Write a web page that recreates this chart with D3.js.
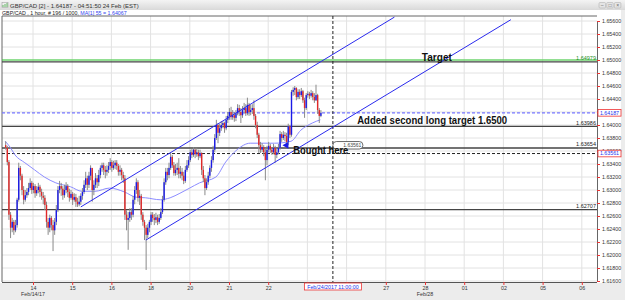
<!DOCTYPE html>
<html>
<head>
<meta charset="utf-8">
<script src="https://cdn.jsdelivr.net/npm/d3@7"></script>
<style>
html, body { margin: 0; padding: 0; background: #ececec; }
svg { display: block; font-family: "Liberation Sans", Arial, sans-serif; }
</style>
</head>
<body>
<svg id="chart" width="625" height="300"></svg>
<script>
// day labels on the time axis (one per trading session)
const dayLabels = ['14', '15', '16', '18', '20', '21', '22', '23', '24', '27', '28', '01', '02', '05', '06'];
const monthLabels = ['Feb/14/17', 'Feb/28'];
const monthLabelDays = [0, 10];
const priceTicks = [1.616, 1.618, 1.620, 1.622, 1.624, 1.626, 1.628, 1.630, 1.632, 1.634, 1.636,
    1.638, 1.640, 1.642, 1.644, 1.646, 1.648, 1.650, 1.652, 1.654, 1.656];

// hourly bars, GBP/CAD
const firstOpen = 1.6369;
const closes = [
    1.6365, 1.6343, 1.6262, 1.6242, 1.6251, 1.6238, 1.6246, 1.6285, 1.6334, 1.6322,
    1.6300, 1.6285, 1.6292, 1.6297, 1.6303, 1.6311, 1.6300, 1.6306, 1.6295, 1.6300,
    1.6305, 1.6297, 1.6291, 1.6288, 1.6277, 1.6251, 1.6242, 1.6257, 1.6246, 1.6238,
    1.6251, 1.6269, 1.6300, 1.6306, 1.6302, 1.6292, 1.6300, 1.6306, 1.6297, 1.6288,
    1.6294, 1.6285, 1.6289, 1.6282, 1.6278, 1.6282, 1.6291, 1.6297, 1.6308, 1.6318,
    1.6308, 1.6322, 1.6334, 1.6300, 1.6308, 1.6318, 1.6312, 1.6323, 1.6334, 1.6338,
    1.6331, 1.6328, 1.6331, 1.6337, 1.6343, 1.6334, 1.6338, 1.6342, 1.6337, 1.6328,
    1.6331, 1.6323, 1.6318, 1.6262, 1.6254, 1.6257, 1.6266, 1.6262, 1.6285, 1.6300,
    1.6312, 1.6288, 1.6291, 1.6262, 1.6251, 1.6242, 1.6231, 1.6242, 1.6251, 1.6262,
    1.6257, 1.6254, 1.6258, 1.6251, 1.6257, 1.6266, 1.6285, 1.6312, 1.6328, 1.6323,
    1.6334, 1.6351, 1.6338, 1.6326, 1.6331, 1.6334, 1.6325, 1.6328, 1.6322, 1.6314,
    1.6331, 1.6338, 1.6346, 1.6358, 1.6354, 1.6362, 1.6355, 1.6358, 1.6352, 1.6357,
    1.6331, 1.6318, 1.6303, 1.6312, 1.6322, 1.6334, 1.6346, 1.6362, 1.6380, 1.6400,
    1.6388, 1.6395, 1.6400, 1.6403, 1.6395, 1.6408, 1.6414, 1.6420, 1.6412, 1.6415,
    1.6411, 1.6418, 1.6426, 1.6420, 1.6415, 1.6423, 1.6426, 1.6418, 1.6431, 1.6420,
    1.6423, 1.6426, 1.6414, 1.6400, 1.6385, 1.6369, 1.6362, 1.6366, 1.6358, 1.6346,
    1.6362, 1.6368, 1.6362, 1.6358, 1.6365, 1.6354, 1.6358, 1.6365, 1.6386, 1.6380,
    1.6385, 1.6383, 1.6374, 1.6398, 1.6385, 1.6451, 1.6454, 1.6457, 1.6443, 1.6451,
    1.6446, 1.6452, 1.6438, 1.6426, 1.6446, 1.6448, 1.6445, 1.6449, 1.6443, 1.6438,
    1.6446, 1.6423, 1.6414, 1.64187
];
const highs = [
    1.6375, 1.6368, 1.6346, 1.6266, 1.6257, 1.6254, 1.6254, 1.6288, 1.6342, 1.6337,
    1.6325, 1.6306, 1.6300, 1.6303, 1.6311, 1.6318, 1.6314, 1.6311, 1.6309, 1.6306,
    1.6311, 1.6308, 1.6302, 1.6297, 1.6292, 1.6282, 1.6257, 1.6262, 1.6260, 1.6254,
    1.6257, 1.6277, 1.6306, 1.6314, 1.6311, 1.6306, 1.6308, 1.6312, 1.6309, 1.6302,
    1.6300, 1.6297, 1.6295, 1.6294, 1.6288, 1.6291, 1.6295, 1.6303, 1.6315, 1.6328,
    1.6322, 1.6328, 1.6338, 1.6331, 1.6315, 1.6326, 1.6323, 1.6331, 1.6338, 1.6342,
    1.6342, 1.6337, 1.6338, 1.6343, 1.6349, 1.6346, 1.6345, 1.6346, 1.6346, 1.6340,
    1.6338, 1.6334, 1.6328, 1.6323, 1.6269, 1.6266, 1.6272, 1.6272, 1.6291, 1.6306,
    1.6318, 1.6315, 1.6300, 1.6294, 1.6266, 1.6254, 1.6246, 1.6248, 1.6254, 1.6266,
    1.6266, 1.6263, 1.6265, 1.6262, 1.6263, 1.6272, 1.6291, 1.6318, 1.6334, 1.6334,
    1.6342, 1.6358, 1.6354, 1.6343, 1.6340, 1.6342, 1.6349, 1.6337, 1.6334, 1.6328,
    1.6337, 1.6346, 1.6352, 1.6362, 1.6363, 1.6366, 1.6365, 1.6365, 1.6362, 1.6362,
    1.6358, 1.6337, 1.6323, 1.6318, 1.6328, 1.6338, 1.6352, 1.6368, 1.6386, 1.6408,
    1.6403, 1.6402, 1.6406, 1.6406, 1.6405, 1.6414, 1.6420, 1.6426, 1.6428, 1.6423,
    1.6420, 1.6423, 1.6432, 1.6431, 1.6426, 1.6429, 1.6434, 1.6432, 1.6442, 1.6434,
    1.6431, 1.6432, 1.6438, 1.6417, 1.6405, 1.6388, 1.6374, 1.6372, 1.6369, 1.6365,
    1.6368, 1.6374, 1.6371, 1.6366, 1.6371, 1.6368, 1.6365, 1.6371, 1.6391, 1.6389,
    1.6391, 1.6389, 1.6388, 1.6402, 1.6400, 1.6454, 1.6458, 1.6460, 1.6458, 1.6455,
    1.6455, 1.6457, 1.6454, 1.6442, 1.6449, 1.6452, 1.6451, 1.6454, 1.6452, 1.6449,
    1.6462, 1.6448, 1.6426, 1.6423
];
const lows = [
    1.6362, 1.6338, 1.6254, 1.6226, 1.6235, 1.6231, 1.6235, 1.6242, 1.6282, 1.6315,
    1.6292, 1.6278, 1.6282, 1.6288, 1.6292, 1.6300, 1.6294, 1.6295, 1.6288, 1.6291,
    1.6295, 1.6289, 1.6285, 1.6278, 1.6269, 1.6242, 1.6231, 1.6235, 1.6238, 1.6206,
    1.6231, 1.6246, 1.6266, 1.6295, 1.6291, 1.6285, 1.6288, 1.6295, 1.6289, 1.6282,
    1.6285, 1.6277, 1.6282, 1.6274, 1.6274, 1.6275, 1.6277, 1.6285, 1.6294, 1.6303,
    1.6300, 1.6303, 1.6315, 1.6282, 1.6292, 1.6303, 1.6303, 1.6306, 1.6318, 1.6328,
    1.6323, 1.6318, 1.6322, 1.6326, 1.6331, 1.6328, 1.6331, 1.6332, 1.6331, 1.6322,
    1.6322, 1.6315, 1.6311, 1.6254, 1.6238, 1.6208, 1.6251, 1.6254, 1.6258, 1.6278,
    1.6294, 1.6282, 1.6277, 1.6254, 1.6245, 1.6223, 1.6177, 1.6226, 1.6235, 1.6246,
    1.6251, 1.6246, 1.6249, 1.6246, 1.6248, 1.6254, 1.6263, 1.6282, 1.6308, 1.6315,
    1.6318, 1.6331, 1.6334, 1.6322, 1.6322, 1.6323, 1.6318, 1.6318, 1.6315, 1.6309,
    1.6311, 1.6328, 1.6334, 1.6343, 1.6349, 1.6351, 1.6349, 1.6351, 1.6346, 1.6349,
    1.6323, 1.6312, 1.6292, 1.6300, 1.6308, 1.6318, 1.6328, 1.6342, 1.6358, 1.6377,
    1.6372, 1.6383, 1.6391, 1.6395, 1.6388, 1.6392, 1.6403, 1.6408, 1.6408, 1.6408,
    1.6405, 1.6406, 1.6415, 1.6414, 1.6403, 1.6411, 1.6418, 1.6414, 1.6415, 1.6414,
    1.6415, 1.6417, 1.6408, 1.6395, 1.6380, 1.6357, 1.6357, 1.6358, 1.6352, 1.6315,
    1.6338, 1.6358, 1.6357, 1.6354, 1.6355, 1.6342, 1.6349, 1.6355, 1.6362, 1.6374,
    1.6377, 1.6375, 1.6368, 1.6369, 1.6380, 1.6382, 1.6445, 1.6446, 1.6438, 1.6440,
    1.6440, 1.6443, 1.6434, 1.6411, 1.6423, 1.6442, 1.6440, 1.6442, 1.6438, 1.6434,
    1.6437, 1.6417, 1.6403, 1.6412
];

// MA(55) read at a few bars
const maBars = [0, 3, 6, 12, 18, 24, 31, 40, 47, 55, 64, 73, 80, 86, 95, 101, 107, 113, 119, 129,
    135, 142, 150, 165, 175, 181, 188, 193];
const maValues = [1.6375, 1.6366, 1.6354, 1.6342, 1.6331, 1.6320, 1.6311, 1.6305, 1.6298, 1.6298,
    1.6303, 1.6297, 1.6289, 1.6288, 1.6285, 1.6288, 1.6295, 1.6303, 1.6311, 1.6320,
    1.6343, 1.6362, 1.6372, 1.6372, 1.6375, 1.6392, 1.6403, 1.6408];

// horizontal study lines
const levelPrices = [1.64979, 1.63986, 1.63654, 1.62707];
const levelLabels = ['1.64979', '1.63986', '1.63654', '1.62707'];
const targetPrice = 1.6500;
const lastPrice = 1.64187;
const cursorPrice = 1.63561;
const cursorDay = 7.65;
const cursorLabel = 'Feb/24/2017 11:00:00';

// trend channel, [day, price]
const upperChannel = [[1.22, 1.6274], [9.22, 1.6566]];
const lowerChannel = [[2.88, 1.6223], [12.19, 1.6562]];

const firstBarDay = -0.71;
const barsPerDay = 24;

const W = 625, H = 300;
const plotLeft = 2, plotRight = 597, plotTop = 16, plotBottom = 282;

const svg = d3.select('#chart');
const xs = d3.scaleLinear().domain([0, 14]).range([33, 581.8]);
const ys = d3.scaleLinear().domain([1.616, 1.656]).range([281, 21]);
const barX = (i) => xs(firstBarDay + i / barsPerDay);

// window chrome
const grad = svg.append('defs').append('linearGradient').attr('id', 'tb').attr('x1', 0).attr('x2', 0).attr('y1', 0).attr('y2', 1);
grad.append('stop').attr('offset', 0).attr('stop-color', '#f4f4f4');
grad.append('stop').attr('offset', 1).attr('stop-color', '#d9d9d9');
svg.select('defs').append('clipPath').attr('id', 'plotclip')
    .append('rect').attr('x', plotLeft).attr('y', plotTop).attr('width', plotRight - plotLeft).attr('height', plotBottom - plotTop);

svg.append('rect').attr('width', W).attr('height', H).attr('fill', '#ececec');
svg.append('rect').attr('width', W).attr('height', 10).attr('fill', 'url(#tb)');
svg.append('rect').attr('x', 0).attr('y', 10).attr('width', 621).attr('height', 273).attr('fill', '#fff');

// title icon + text
svg.append('rect').attr('x', 2).attr('y', 2.5).attr('width', 6).attr('height', 5).attr('fill', '#eee').attr('stroke', '#999').attr('stroke-width', 0.5);
svg.append('path').attr('d', 'M3,7 L3,5 M5,7 L5,4 M7,7 L7,3').attr('stroke', '#4a4').attr('stroke-width', 0.8);
svg.append('text').attr('x', 10).attr('y', 7.5).attr('font-size', 6).attr('fill', '#333')
    .text('GBP/CAD [2] - 1.64187 - 04:51:50  24 Feb (EST)');
const sub = svg.append('text').attr('x', 2).attr('y', 14.5).attr('font-size', 5.3).attr('fill', '#222');
sub.append('tspan').text('GBP/CAD , 1 hour, # 196 / 1000, ');
sub.append('tspan').attr('fill', '#3344ee').text('MA[1] 55 = 1.64067');

// window buttons
['–', '□', '×'].forEach((g, i) => {
    svg.append('rect').attr('x', 599 + i * 7.7).attr('y', 2.5).attr('width', 6.5).attr('height', 5.5)
        .attr('rx', 1).attr('fill', '#e4e4e4').attr('stroke', '#aaa').attr('stroke-width', 0.5);
    svg.append('text').attr('x', 602.2 + i * 7.7).attr('y', 7).attr('font-size', 5).attr('text-anchor', 'middle')
        .attr('fill', '#666').text(g);
});

// grid
svg.append('g').selectAll('line').data(priceTicks).enter().append('line')
    .attr('x1', plotLeft).attr('x2', plotRight).attr('y1', d => ys(d)).attr('y2', d => ys(d))
    .attr('stroke', '#e2e2e2').attr('stroke-width', 1);
svg.append('g').selectAll('line').data(dayLabels).enter().append('line')
    .attr('x1', (d, i) => xs(i)).attr('x2', (d, i) => xs(i)).attr('y1', plotTop).attr('y2', plotBottom)
    .attr('stroke', '#e2e2e2').attr('stroke-width', 1);

// frame
svg.append('path').attr('d', `M${plotLeft},${plotBottom} V${plotTop} H${plotRight}`)
    .attr('fill', 'none').attr('stroke', '#666').attr('stroke-width', 1);

const plot = svg.append('g').attr('clip-path', 'url(#plotclip)');

// level lines
plot.append('line').attr('x1', plotLeft).attr('x2', plotRight).attr('y1', ys(targetPrice)).attr('y2', ys(targetPrice))
    .attr('stroke', '#33cc33').attr('stroke-width', 1);
plot.selectAll('.lvl').data(levelPrices).enter().append('line')
    .attr('x1', plotLeft).attr('x2', plotRight).attr('y1', d => ys(d) + 0.5).attr('y2', d => ys(d) + 0.5)
    .attr('stroke', '#444').attr('stroke-width', 1.3);
plot.selectAll('.lvlt').data(levelPrices).enter().append('text')
    .attr('x', 596).attr('y', d => ys(d) - 1).attr('text-anchor', 'end').attr('font-size', 5.5)
    .attr('fill', (d, i) => i === 0 ? '#1f8f1f' : '#222').text((d, i) => levelLabels[i]);

// last price + crosshair
plot.append('line').attr('x1', plotLeft).attr('x2', plotRight).attr('y1', ys(lastPrice)).attr('y2', ys(lastPrice))
    .attr('stroke', '#7777ff').attr('stroke-width', 1.2).attr('stroke-dasharray', '3,2');
plot.append('line').attr('x1', plotLeft).attr('x2', plotRight).attr('y1', ys(cursorPrice)).attr('y2', ys(cursorPrice))
    .attr('stroke', '#222').attr('stroke-width', 1).attr('stroke-dasharray', '3,2');
plot.append('line').attr('x1', xs(cursorDay)).attr('x2', xs(cursorDay)).attr('y1', plotTop).attr('y2', plotBottom)
    .attr('stroke', '#222').attr('stroke-width', 1).attr('stroke-dasharray', '3,2');

// MA line
plot.append('path')
    .datum(maBars.map((b, i) => [barX(b), ys(maValues[i])]))
    .attr('d', d3.line().curve(d3.curveMonotoneX))
    .attr('fill', 'none').attr('stroke', '#8c8cff').attr('stroke-width', 1);

// candles
const bars = closes.map((c, i) => ({
    i, open: i === 0 ? firstOpen : closes[i - 1], close: c, high: highs[i], low: lows[i]
}));
const candles = plot.append('g').selectAll('g').data(bars).enter().append('g');
candles.append('line')
    .attr('x1', d => barX(d.i) + 0.5).attr('x2', d => barX(d.i) + 0.5)
    .attr('y1', d => ys(d.high)).attr('y2', d => ys(d.low))
    .attr('stroke', '#8a8a8a').attr('stroke-width', 1);
candles.append('rect')
    .attr('x', d => barX(d.i) - 0.2).attr('width', 1.4)
    .attr('y', d => ys(Math.max(d.open, d.close)))
    .attr('height', d => Math.max(1, Math.abs(ys(d.open) - ys(d.close))))
    .attr('fill', d => d.close >= d.open ? '#1a1ae6' : '#e02828');

// trend channel
[upperChannel, lowerChannel].forEach(ch => {
    plot.append('line')
        .attr('x1', xs(ch[0][0])).attr('y1', ys(ch[0][1]))
        .attr('x2', xs(ch[1][0])).attr('y2', ys(ch[1][1]))
        .attr('stroke', '#2a2aee').attr('stroke-width', 1);
});

// annotations
plot.append('rect').attr('x', xs(cursorDay)).attr('y', ys(cursorPrice) - 12).attr('width', 30).attr('height', 7.5)
    .attr('rx', 3.5).attr('fill', '#fff').attr('stroke', '#444').attr('stroke-width', 0.8);
plot.append('text').attr('x', xs(cursorDay) + 28.5).attr('y', ys(cursorPrice) - 6.3).attr('text-anchor', 'end')
    .attr('font-size', 5).attr('fill', '#444').text('1.63561');
plot.append('path')
    .attr('d', `M${barX(171) - 2},${ys(1.6369)} l6,-3.5 v7 z`)
    .attr('fill', '#1a1ae6');
const note = (x, y, txt, size, len) => plot.append('text').attr('x', x).attr('y', y)
    .attr('font-size', size).attr('font-weight', 'bold').attr('fill', '#111')
    .attr('textLength', len).attr('lengthAdjust', 'spacingAndGlyphs').text(txt);
note(xs(6.64), ys(1.6354) - 0.5, 'Bought here', 10.5, 55);
note(xs(8.27), ys(1.6402) + 0.5, 'Added second long target 1.6500', 11, 150);
note(xs(9.92), ys(1.6498), 'Target', 10.5, 30);

// right axis (labels hidden under the last-price box, as in the platform)
const yAxis = svg.append('g').attr('transform', `translate(${plotRight},0)`)
    .call(d3.axisRight(ys).tickValues(priceTicks).tickFormat(d3.format('.5f')).tickSize(3).tickPadding(2));
yAxis.select('.domain').attr('stroke', '#666');
yAxis.selectAll('.tick line').attr('stroke', '#e33');
yAxis.selectAll('.tick text').attr('font-size', 5.3).attr('fill', '#333').attr('font-family', null)
    .attr('display', d => Math.abs(ys(d) - ys(lastPrice)) < 4 ? 'none' : null);

// axis boxes for last price and cursor price
[[lastPrice, '1.64187'], [cursorPrice, '1.63561']].forEach(([p, t]) => {
    svg.append('rect').attr('x', 598).attr('y', ys(p) - 3.3).attr('width', 23).attr('height', 6.6)
        .attr('fill', '#fff').attr('stroke', '#e33').attr('stroke-width', 0.8);
    svg.append('text').attr('x', 609.5).attr('y', ys(p) + 1.9).attr('text-anchor', 'middle')
        .attr('font-size', 5.3).attr('fill', '#2233ee').text(t);
});

// bottom axis (the day under the cursor box is covered)
const xAxis = svg.append('g').attr('transform', `translate(0,${plotBottom})`)
    .call(d3.axisBottom(xs).tickValues(dayLabels.map((d, i) => i)).tickFormat(i => dayLabels[i]).tickSize(3).tickPadding(1.5));
xAxis.select('.domain').attr('d', `M${plotLeft},0.5H${plotRight}`).attr('stroke', '#555');
xAxis.selectAll('.tick line').attr('stroke', '#e33');
xAxis.selectAll('.tick text').attr('font-size', 5.3).attr('fill', '#333').attr('font-family', null)
    .attr('display', i => Math.abs(xs(i) - xs(cursorDay)) < 30 ? 'none' : null);
svg.append('g').selectAll('text').data(monthLabels).enter().append('text')
    .attr('x', (d, i) => xs(monthLabelDays[i])).attr('y', 296).attr('text-anchor', 'middle')
    .attr('font-size', 5.3).attr('fill', '#333').text(d => d);

// cursor time box
svg.append('rect').attr('x', xs(cursorDay) - 28.5).attr('y', 283).attr('width', 57).attr('height', 7)
    .attr('fill', '#fff').attr('stroke', '#e33').attr('stroke-width', 0.8);
svg.append('text').attr('x', xs(cursorDay)).attr('y', 288.6).attr('text-anchor', 'middle')
    .attr('font-size', 5.3).attr('fill', '#2233ee').text(cursorLabel);
</script>
</body>
</html>
